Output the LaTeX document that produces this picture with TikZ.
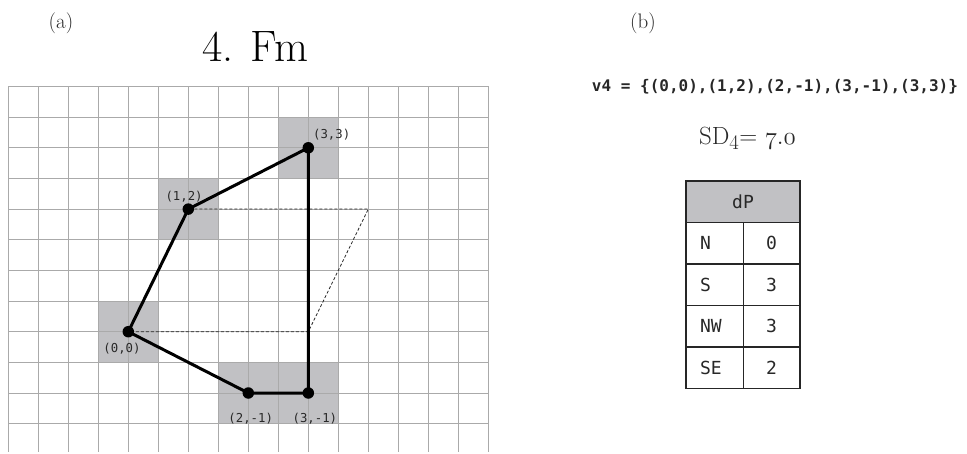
\documentclass[tikz,border=0pt]{standalone}
\usepackage{fontspec}
\setmonofont{DejaVu Sans Mono}
\usepackage{xcolor}
\usetikzlibrary{positioning}
\definecolor{cellgray}{RGB}{193,193,196}
\definecolor{linegray}{RGB}{170,170,170}
\definecolor{inkgray}{RGB}{40,40,40}
\tikzset{
  gridline/.style={draw=linegray, line width=1pt},
  visited/.style={fill=cellgray},
  vertex/.style={circle, fill=black, minimum size=11.5pt, inner sep=0pt},
  hull/.style={line width=3pt, line join=round},
  guide/.style={draw=inkgray, line width=0.8pt, dash pattern=on 3pt off 2pt},
  ptlabel/.style={font=\ttfamily\fontsize{12.3}{14}\selectfont, inner sep=0pt},
  panel/.style={font=\fontsize{21}{24}\selectfont},
  cell/.style={draw=black!85, line width=1.6pt, outer sep=0pt, minimum height=41.5pt, font=\ttfamily\fontsize{18}{20}\selectfont},
  cellhead/.style={cell, fill=cellgray, minimum width=114pt, minimum height=41.3pt},
  cellkey/.style={cell, text width=29.3pt, inner xsep=14pt, align=left},
  cellval/.style={cell, minimum width=56.7pt},
  every node/.style={text=inkgray}
}

\begin{document}
\begin{tikzpicture}[x=1pt, y=1pt]
    \useasboundingbox (0,0) rectangle (967,453);
    % panel (a)
    \node[panel] (tagA) at (61,430) {(a)};
    \node[font=\fontsize{44}{50}\selectfont, anchor=base, text=black] (title) at (255,391) {4. Fm};
    \begin{scope}[shift={(128.3,121.3)}, x=60pt, y=61.3pt]
      \fill[visited] (-0.5,-0.5) rectangle (0.5,0.5);
      \fill[visited] (0.5,1.5) rectangle (1.5,2.5);
      \fill[visited] (2.5,2.5) rectangle (3.5,3.5);
      \fill[visited] (1.5,-1.5) rectangle (3.5,-0.5);
      \foreach \gx in {-2,-1.5,...,6}
        \draw[gridline] (\gx,-1.96) -- (\gx,4);
      \foreach \gy in {-1.5,-1,...,4}
        \draw[gridline] (-2,\gy) -- (6,\gy);
      \node[vertex] (p00) at (0,0) {};
      \node[vertex] (p12) at (1,2) {};
      \node[vertex] (p33) at (3,3) {};
      \node[vertex] (p2m) at (2,-1) {};
      \node[vertex] (p3m) at (3,-1) {};
      \coordinate (c42) at (4,2);
      \coordinate (c30) at (3,0);
      \draw[guide] (p12) -- (c42) -- (c30) -- (p00);
      \draw[hull] (p00.center) -- (p12.center) -- (p33.center) -- (p3m.center) -- (p2m.center) -- cycle;
      \node[ptlabel] (l00) at (-0.105,-0.28) {(0,0)};
      \node[ptlabel] (l12) at (0.93,2.20) {(1,2)};
      \node[ptlabel] (l33) at (3.39,3.21) {(3,3)};
      \node[ptlabel] (l2m) at (2.04,-1.42) {(2,-1)};
      \node[ptlabel] (l3m) at (3.11,-1.42) {(3,-1)};
    \end{scope}
    % panel (b)
    \node[panel] (tagB) at (643,430) {(b)};
    \node[font=\ttfamily\bfseries\fontsize{16}{18}\selectfont, inner sep=0pt] (vset) at (775,366) {v4 = \{(0,0),(1,2),(2,-1),(3,-1),(3,3)\}};
    \node[font=\fontsize{24.88}{28}\selectfont] (sd) at (747.5,315) {SD\textsubscript{4}= $\mathnormal{7.0}$};
    \node[cellhead] (hdr) at (743,251.3) {dP};
    \node[cellkey, anchor=north west] (kN) at (hdr.south west) {N};
    \node[cellval, right=0pt of kN] (vN) {0};
    \node[cellkey, below=0pt of kN] (kS) {S};
    \node[cellval, right=0pt of kS] (vS) {3};
    \node[cellkey, below=0pt of kS] (kNW) {NW};
    \node[cellval, right=0pt of kNW] (vNW) {3};
    \node[cellkey, below=0pt of kNW] (kSE) {SE};
    \node[cellval, right=0pt of kSE] (vSE) {2};
\end{tikzpicture}
\end{document}
